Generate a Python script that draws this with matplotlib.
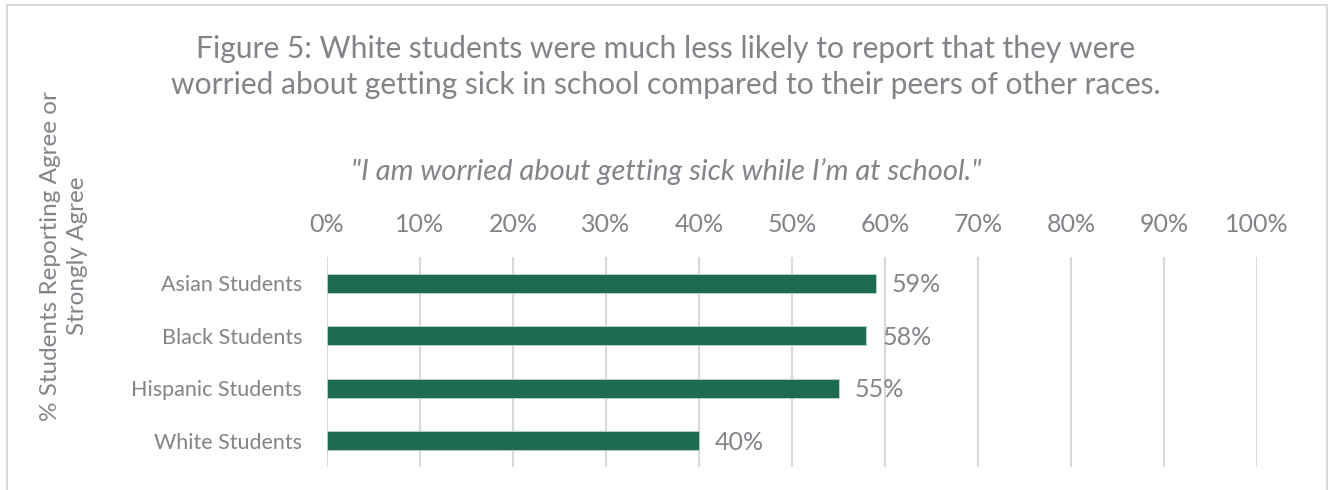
import matplotlib
matplotlib.use("Agg")
import matplotlib.pyplot as plt
from matplotlib.patches import Rectangle
from matplotlib.ticker import FixedLocator, FuncFormatter

# Survey data: share of students who agree or strongly agree
categories = ["Asian Students", "Black Students", "Hispanic Students", "White Students"]
values = [59, 58, 55, 40]
tick_values = [0, 10, 20, 30, 40, 50, 60, 70, 80, 90, 100]

title = ("Figure 5: White students were much less likely to report that they were\n"
         "worried about getting sick in school compared to their peers of other races.")
subtitle = "\"I am worried about getting sick while I\u2019m at school.\""
ylabel = "% Students Reporting Agree or\nStrongly Agree"

TEXT = "#838389"
BAR = "#1E6B4F"
GRID = "#D9D9D9"
FONT = "Lato"

plt.rcParams["font.family"] = [FONT, "DejaVu Sans"]

fig = plt.figure(figsize=(13.31, 4.90), dpi=100)
fig.patch.set_facecolor("white")

# light frame around the chart area
fig.add_artist(Rectangle((7 / 1331, -0.05), 1320 / 1331, 1 - 5 / 490 + 0.05,
                         transform=fig.transFigure, fill=False,
                         edgecolor="#D9D9D9", linewidth=1.5))

ax = fig.add_axes([327 / 1331, 1 - 467 / 490, 930 / 1331, 210 / 490])

y = list(range(len(categories)))
ax.barh(y, values, height=0.37, color=BAR, edgecolor="#BFD3CA", linewidth=0.6, zorder=3)
for yi, v in zip(y, values):
    ax.text(v + 1.7, yi + 0.03, f"{v}%", va="center", ha="left", fontsize=18, color=TEXT)

ax.set_xlim(0, 100)
ax.set_ylim(len(categories) - 0.5, -0.5)
ax.set_yticks(y)
ax.set_yticklabels(categories, fontsize=15.5, color=TEXT)
ax.xaxis.set_major_locator(FixedLocator(tick_values))
ax.xaxis.set_major_formatter(FuncFormatter(lambda v, p: f"{int(v)}%"))
ax.xaxis.tick_top()
ax.tick_params(axis="x", length=0, pad=15, labelsize=18, labelcolor=TEXT)
ax.tick_params(axis="y", length=0, pad=18)
ax.grid(axis="x", color=GRID, linewidth=1.5, zorder=0)
for s in ax.spines.values():
    s.set_visible(False)

fig.text(666 / 1331, 1 - 67 / 490, title, ha="center", va="center",
         fontsize=21.6, color=TEXT, linespacing=1.38)
fig.text(666 / 1331, 1 - 172 / 490, subtitle, ha="center", va="center",
         fontsize=21, color=TEXT, style="italic")
fig.text(64 / 1331, 1 - 256 / 490, ylabel, ha="center", va="center",
         rotation=90, fontsize=17.5, color=TEXT, linespacing=1.35)

fig.savefig("out.png", dpi=100, facecolor="white")
